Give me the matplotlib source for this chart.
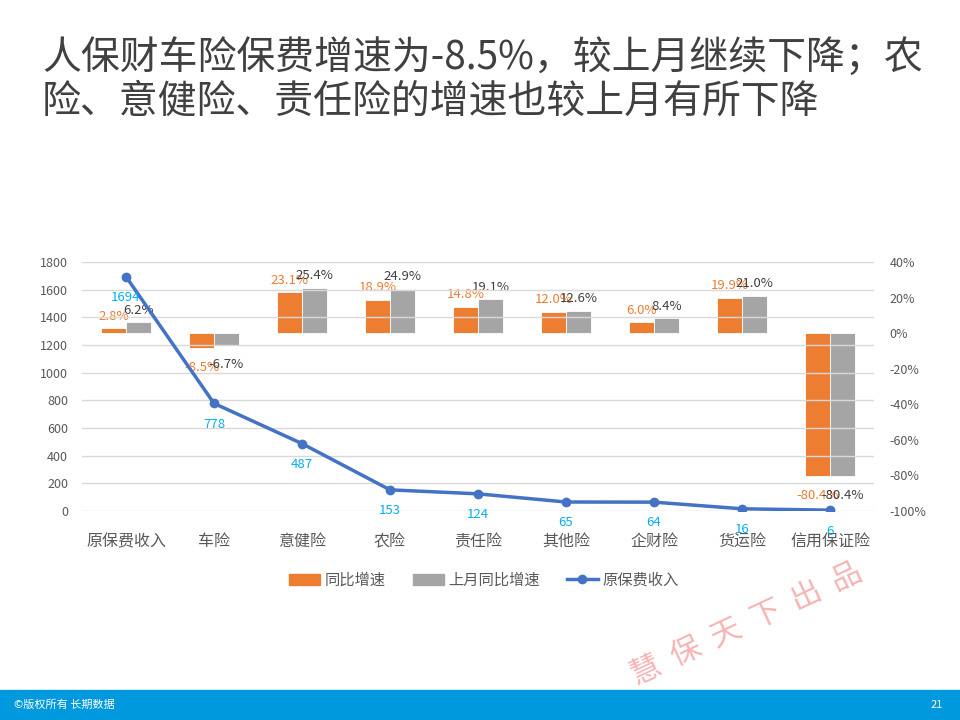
import numpy as np
import matplotlib.pyplot as plt
from matplotlib.patches import Rectangle

plt.rcParams['font.family'] = ['Noto Sans CJK SC', 'DejaVu Sans']

categories = ["原保费收入", "车险", "意健险", "农险", "责任险", "其他险", "企财险", "货运险", "信用保证险"]
premium = [1694, 778, 487, 153, 124, 65, 64, 16, 6]
yoy = [2.8, -8.5, 23.1, 18.9, 14.8, 12.0, 6.0, 19.9, -80.4]
yoy_last = [6.2, -6.7, 25.4, 24.9, 19.1, 12.6, 8.4, 21.0, -80.4]

c_orange = "#ED7D31"
c_gray = "#A5A5A5"
c_line = "#4472C4"
c_text = "#595959"

fig = plt.figure(figsize=(9.6, 7.2), dpi=100)
ax = fig.add_axes([82/960, 1-511/720, 792/960, 249/720])
ax2 = ax.twinx()

x = np.arange(len(categories))
w = 0.28
ax2.bar(x - w/2, yoy, w, color=c_orange, edgecolor="white", linewidth=0.6)
ax2.bar(x + w/2, yoy_last, w, color=c_gray, edgecolor="white", linewidth=0.6)
for i in range(len(x)):
    for val, dx, col in [(yoy[i], -w/2, c_orange), (yoy_last[i], w/2, "#404040")]:
        off = 4 if val >= 0 else -9
        ax2.annotate(f"{val:.1f}%", (x[i] + dx, val), xytext=(0, off), textcoords="offset points",
                     ha="center", va="bottom" if val >= 0 else "top", fontsize=9.5, color=col)

ax.plot(x, premium, color=c_line, linewidth=2.5, marker="o", markersize=6)
for i in range(len(x)):
    ax.annotate(str(premium[i]), (x[i], premium[i]), xytext=(0, -15), textcoords="offset points",
                ha="center", va="center", fontsize=9.5, color="#00B0F0")

ax.set_zorder(ax2.get_zorder() + 1)
ax.patch.set_visible(False)

ax.set_xlim(-0.5, len(x) - 0.5)
ax.set_ylim(0, 1800)
ax.set_yticks(range(0, 1801, 200))
ax2.set_ylim(-100, 40)
ax2.set_yticks(range(-100, 41, 20))
ax2.set_yticklabels([f"{t}%" for t in range(-100, 41, 20)])
ax.set_xticks(x)
ax.set_xticklabels(categories, fontsize=11.5, color=c_text)
ax.tick_params(axis="x", length=0, pad=16)
ax.tick_params(axis="y", length=0, labelsize=9, labelcolor=c_text, pad=10)
ax2.tick_params(axis="y", length=0, labelsize=9, labelcolor=c_text, pad=11)
ax.grid(axis="y", color="#D9D9D9", linewidth=1)
ax.set_axisbelow(True)
for a in (ax, ax2):
    for s in a.spines.values():
        s.set_visible(False)

h1 = Rectangle((0, 0), 1, 1, color=c_orange)
h2 = Rectangle((0, 0), 1, 1, color=c_gray)
h3, = ax.plot([], [], color=c_line, linewidth=2.5, marker="o", markersize=6)
fig.legend([h1, h2, h3], ["同比增速", "上月同比增速", "原保费收入"], loc="center",
           bbox_to_anchor=(484/960, 1-580/720), ncol=3, frameon=False, fontsize=11,
           labelcolor=c_text, handlelength=2.0, handletextpad=0.3, columnspacing=1.8)

fig.text(42/960, 1-58/720, "人保财车险保费增速为-8.5%，较上月继续下降；农", fontsize=28,
         color="#404040", va="center", ha="left")
fig.text(42/960, 1-102/720, "险、意健险、责任险的增速也较上月有所下降", fontsize=28,
         color="#404040", va="center", ha="left")

fig.patches.append(Rectangle((0, 0), 1, 30/720, transform=fig.transFigure, color="#0099DD", zorder=0))
fig.text(14/960, 15/720, "©版权所有 长期数据", fontsize=8, color="white", va="center", ha="left")
fig.text(943/960, 15/720, "21", fontsize=8, color="white", va="center", ha="right")

fig.text(747/960, 1-624/720, "慧  保  天  下  出  品", fontsize=22, color="#F4A0A0", alpha=0.8,
         rotation=25, ha="center", va="center")

fig.savefig("out.png", dpi=100)
